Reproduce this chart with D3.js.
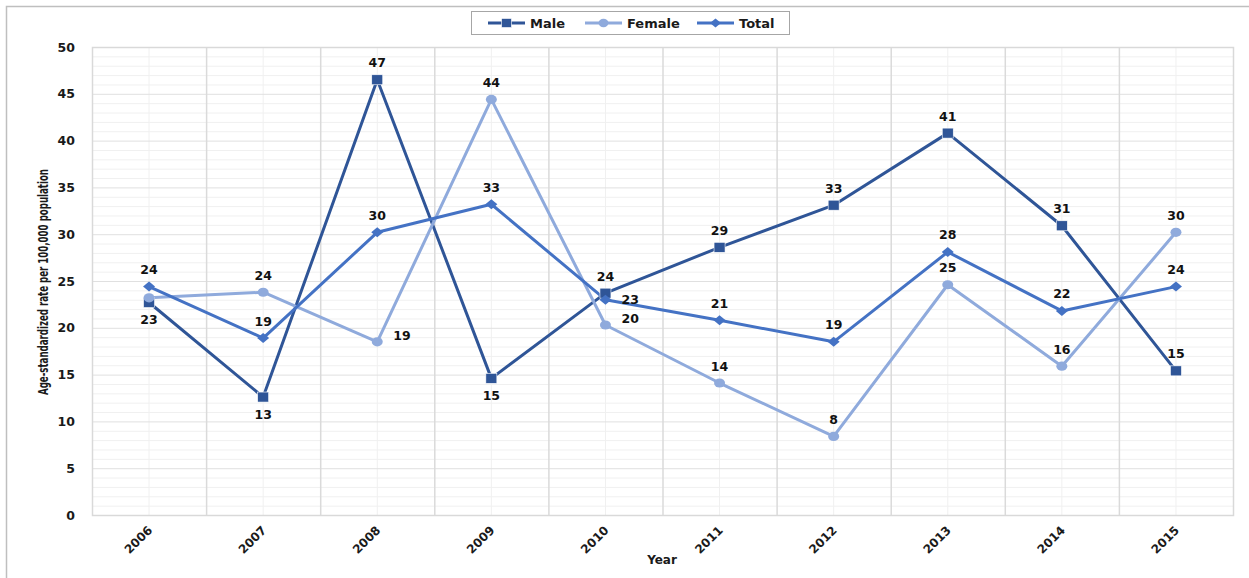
<!DOCTYPE html>
<html>
<head>
<meta charset="utf-8">
<script src="https://cdn.jsdelivr.net/npm/d3@7"></script>
<style>
  html, body { margin: 0; padding: 0; background: #fff; }
  svg { display: block; }
</style>
</head>
<body>
<svg id="chart" width="1249" height="578"></svg>
<script>
const years = ["2006","2007","2008","2009","2010","2011","2012","2013","2014","2015"];
const male   = [22.7, 12.6, 46.5, 14.6, 23.7, 28.6, 33.1, 40.8, 30.9, 15.4];
const female = [23.2, 23.8, 18.5, 44.4, 20.3, 14.1, 8.4, 24.6, 15.9, 30.2];
const total  = [24.4, 18.9, 30.2, 33.2, 23.0, 20.8, 18.5, 28.1, 21.8, 24.4];
const yTicks = [0, 5, 10, 15, 20, 25, 30, 35, 40, 45, 50];
const maleLabelPos   = ["below","below","above","below","above","above","above","above","above","above"];
const femaleLabelPos = ["none","above","right","above","right","above","above","above","above","above"];
const totalLabelPos  = ["above","above","above","above","right","above","above","above","above","above"];

const series = [
  { name: "Male",   values: male,   color: "#2F5597", marker: "square",  labels: maleLabelPos },
  { name: "Female", values: female, color: "#8FAADC", marker: "circle",  labels: femaleLabelPos },
  { name: "Total",  values: total,  color: "#4472C4", marker: "diamond", labels: totalLabelPos }
];

const svg = d3.select("#chart");
const W = 1249, H = 578;
const plot = { left: 92, right: 1233, top: 47, bottom: 515 };
const boldFont = "'DejaVu Sans', Verdana, sans-serif";

// outer chart border
svg.append("rect").attr("x", 6.5).attr("y", 6.5).attr("width", W + 10).attr("height", H + 10)
  .attr("fill", "#fff").attr("stroke", "#bfbfbf").attr("stroke-width", 1.5);

const x = d3.scaleBand().domain(years).range([plot.left, plot.right]).padding(0);
const y = d3.scaleLinear().domain([0, 50]).range([plot.bottom, plot.top]);

const g = svg.append("g");

// minor horizontal gridlines
const minorY = d3.range(0, 51, 1).filter(v => v % 5 !== 0);
g.selectAll(".hminor").data(minorY).enter().append("line")
  .attr("x1", plot.left).attr("x2", plot.right)
  .attr("y1", d => y(d) + 0.5).attr("y2", d => y(d) + 0.5)
  .attr("stroke", "#f0f0f0").attr("stroke-width", 1);
// minor vertical gridlines (category centers)
g.selectAll(".vminor").data(years).enter().append("line")
  .attr("x1", d => x(d) + x.bandwidth() / 2).attr("x2", d => x(d) + x.bandwidth() / 2)
  .attr("y1", plot.top).attr("y2", plot.bottom)
  .attr("stroke", "#f0f0f0").attr("stroke-width", 1);
// major horizontal
g.selectAll(".hmajor").data(yTicks).enter().append("line")
  .attr("x1", plot.left).attr("x2", plot.right)
  .attr("y1", d => y(d) + 0.5).attr("y2", d => y(d) + 0.5)
  .attr("stroke", "#e0e0e0").attr("stroke-width", 1);
// major vertical (band boundaries)
g.selectAll(".vmajor").data(years.slice(1)).enter().append("line")
  .attr("x1", d => x(d) + 0.5).attr("x2", d => x(d) + 0.5)
  .attr("y1", plot.top).attr("y2", plot.bottom)
  .attr("stroke", "#dadada").attr("stroke-width", 1.5);
// plot border
g.append("rect").attr("x", plot.left + 0.5).attr("y", plot.top + 0.5)
  .attr("width", plot.right - plot.left).attr("height", plot.bottom - plot.top)
  .attr("fill", "none").attr("stroke", "#d9d9d9").attr("stroke-width", 1.5);

// y axis labels
const yAxis = d3.axisLeft(y).tickValues(yTicks).tickSize(0).tickPadding(0);
const yg = svg.append("g").attr("transform", `translate(${plot.left - 17},0)`).call(yAxis);
yg.select(".domain").remove();
yg.selectAll("text").attr("font-family", boldFont).attr("font-weight", "bold")
  .attr("font-size", 12.5).attr("fill", "#1a1a1a");

// x axis labels
const xAxis = d3.axisBottom(x).tickSize(0).tickPadding(0);
const xg = svg.append("g").attr("transform", `translate(0,${plot.bottom})`).call(xAxis);
xg.select(".domain").remove();
xg.selectAll("text")
  .attr("font-family", boldFont).attr("font-weight", "bold").attr("font-size", 12).attr("fill", "#1a1a1a")
  .attr("text-anchor", "end").attr("dy", null).attr("y", 0)
  .attr("transform", "translate(4,16) rotate(-45)");

// axis titles
svg.append("text").attr("x", 662).attr("y", 564).attr("text-anchor", "middle")
  .attr("font-family", boldFont).attr("font-weight", "bold").attr("font-size", 12).attr("fill", "#1a1a1a")
  .text("Year");
svg.append("text")
  .attr("transform", `translate(48,${(plot.top + plot.bottom) / 2 + 1}) rotate(-90)`)
  .attr("text-anchor", "middle")
  .attr("font-family", "'DejaVu Sans Condensed', 'Liberation Sans Narrow', 'Arial Narrow', sans-serif")
  .attr("font-weight", "bold").attr("font-size", 14).attr("fill", "#1a1a1a")
  .attr("textLength", 226).attr("lengthAdjust", "spacingAndGlyphs")
  .text("Age-standardized rate per 100,000 population");

// marker drawer
function drawMarker(sel, type, color, cx, cy, scale) {
  const s = scale || 1;
  if (type === "square") {
    sel.append("rect").attr("x", cx - 5.5 * s).attr("y", cy - 5 * s).attr("width", 11 * s).attr("height", 10 * s)
      .attr("fill", color).attr("stroke", "#ffffff").attr("stroke-width", 0.6);
  } else if (type === "circle") {
    sel.append("ellipse").attr("cx", cx).attr("cy", cy).attr("rx", 5.5 * s).attr("ry", 4.6 * s)
      .attr("fill", color);
  } else {
    const r = 5 * s;
    sel.append("path").attr("d", `M${cx},${cy - r}L${cx + r + 1},${cy}L${cx},${cy + r}L${cx - r - 1},${cy}Z`)
      .attr("fill", color);
  }
}

const cx = d => x(d) + x.bandwidth() / 2;
const line = d3.line().x((d, i) => cx(years[i])).y(d => y(d));

// lines
series.forEach(s => {
  svg.append("path").datum(s.values).attr("d", line)
    .attr("fill", "none").attr("stroke", s.color).attr("stroke-width", 3)
    .attr("stroke-linejoin", "round");
});
// markers
series.forEach(s => {
  const mg = svg.append("g");
  s.values.forEach((v, i) => drawMarker(mg, s.marker, s.color, cx(years[i]), y(v)));
});
// data labels
series.forEach(s => {
  s.values.forEach((v, i) => {
    const pos = s.labels[i];
    if (pos === "none") return;
    let lx = cx(years[i]), ly = y(v), anchor = "middle";
    if (pos === "above") ly -= 17;
    else if (pos === "below") ly += 17;
    else if (pos === "right") { lx += 16; anchor = "start"; if (s.name === "Female") ly -= 6; }
    svg.append("text").attr("x", lx).attr("y", ly).attr("text-anchor", anchor)
      .attr("dominant-baseline", "central")
      .attr("font-family", boldFont).attr("font-weight", "bold").attr("font-size", 12.5).attr("fill", "#111")
      .text(Math.round(v));
  });
});

// legend
const lg = svg.append("g");
lg.append("rect").attr("x", 471.5).attr("y", 11.5).attr("width", 318).attr("height", 23)
  .attr("fill", "#fff").attr("stroke", "#a6a6a6").attr("stroke-width", 1);
const legendX = [488, 585, 697];
series.forEach((s, i) => {
  const lx = legendX[i], ly = 23;
  lg.append("line").attr("x1", lx).attr("x2", lx + 37).attr("y1", ly).attr("y2", ly)
    .attr("stroke", s.color).attr("stroke-width", 3);
  drawMarker(lg, s.marker, s.color, lx + 18.5, ly, 0.9);
  lg.append("text").attr("x", lx + 42).attr("y", ly).attr("dominant-baseline", "central")
    .attr("font-family", boldFont).attr("font-weight", "bold").attr("font-size", 13).attr("fill", "#1a1a1a")
    .text(s.name);
});
</script>
</body>
</html>
